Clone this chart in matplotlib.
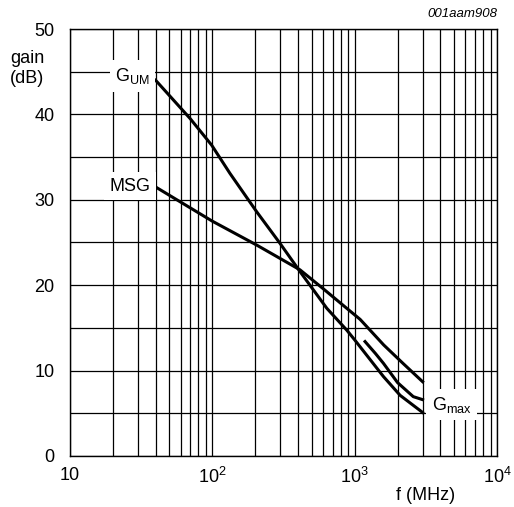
import numpy as np
import matplotlib.pyplot as plt
from matplotlib.ticker import FixedLocator, FixedFormatter, LogLocator, NullFormatter

plt.rcParams['font.family'] = ['Liberation Sans', 'DejaVu Sans']
plt.rcParams['mathtext.default'] = 'regular'

# Кривые усиления
f_gum = [40, 70, 99, 133, 205, 299, 413, 637, 879, 1000, 1593, 2087, 3000]
g_gum = [44.0, 39.5, 36.4, 33.1, 28.6, 24.9, 21.6, 17.3, 14.75, 13.6, 9.3, 7.1, 5.1]

f_msg = [40, 100, 205, 413, 600, 879, 1092, 1600, 2200, 3000]
g_msg = [31.5, 27.5, 24.7, 21.8, 19.6, 17.3, 16.0, 13.0, 10.8, 8.7]

f_gmax = [1183, 1400, 1593, 2000, 2580, 3000]
g_gmax = [13.4, 12.0, 10.85, 8.6, 6.95, 6.6]

xtick_vals = [10, 100, 1000, 10000]
xtick_labels = ['10', '$10^2$', '$10^3$', '$10^4$']
ytick_vals = [0, 10, 20, 30, 40, 50]

fig = plt.figure(figsize=(5.14, 5.07), dpi=100)
ax = fig.add_axes([0.136, 0.1006, 0.831, 0.8422])

ax.set_xscale('log')
ax.set_xlim(10, 1e4)
ax.set_ylim(0, 50)

ax.xaxis.set_major_locator(FixedLocator(xtick_vals))
ax.xaxis.set_major_formatter(FixedFormatter(xtick_labels))
ax.xaxis.set_minor_locator(LogLocator(base=10, subs=np.arange(2, 10)))
ax.xaxis.set_minor_formatter(NullFormatter())
ax.yaxis.set_major_locator(FixedLocator(ytick_vals))
ax.yaxis.set_minor_locator(FixedLocator([5, 15, 25, 35, 45]))

ax.grid(True, which='both', color='black', linewidth=0.9)
ax.tick_params(which='both', length=0, labelsize=13, colors='black')
ax.tick_params(axis='x', pad=8)
ax.tick_params(axis='y', pad=11)
for sp in ax.spines.values():
    sp.set_linewidth(1.0)

lw = 2.2
ax.plot(f_gum, g_gum, color='black', linewidth=lw, zorder=3)
ax.plot(f_msg, g_msg, color='black', linewidth=lw, zorder=3)
ax.plot(f_gmax, g_gmax, color='black', linewidth=lw, zorder=3)

box = dict(facecolor='white', edgecolor='none', pad=4)
ax.text(27.5, 44.5, 'G$_{UM}$', fontsize=13, ha='center', va='center', bbox=box, zorder=4)
ax.text(26.5, 31.6, 'MSG', fontsize=13, ha='center', va='center', bbox=box, zorder=4)
ax.text(4800, 6.0, 'G$_{max}$', fontsize=13, ha='center', va='center', bbox=box, zorder=4)

fig.text(0.967, 0.972, '001aam908', fontsize=9.5, style='italic', ha='right', va='center')
fig.text(0.02, 0.865, 'gain\n(dB)', fontsize=13, ha='left', va='center', linespacing=1.2)
fig.text(0.827, 0.022, 'f (MHz)', fontsize=13, ha='center', va='center')

fig.savefig('out.png', dpi=100)
